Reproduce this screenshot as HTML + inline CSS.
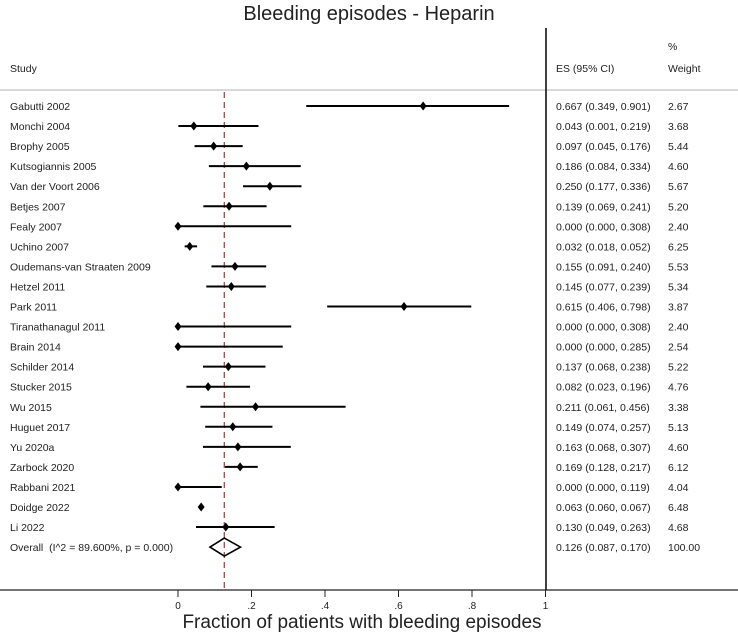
<!DOCTYPE html>
<html><head><meta charset="utf-8"><style>
body{margin:0;background:#fff;}
svg text{font-family:"Liberation Sans",sans-serif;fill:#222;white-space:pre;}
</style></head><body>
<svg id="chart" width="738" height="635" xmlns="http://www.w3.org/2000/svg">
<text x="369" y="20" font-size="20" text-anchor="middle">Bleeding episodes - Heparin</text>
<text x="10" y="72" font-size="10.5">Study</text>
<text x="556" y="72" font-size="10.5">ES (95% CI)</text>
<text x="668" y="50" font-size="10.5">%</text>
<text x="668" y="72" font-size="10.5">Weight</text>
<line x1="0" y1="90" x2="738" y2="90" stroke="#ccc" stroke-width="1.5"/>
<line x1="0" y1="590" x2="738" y2="590" stroke="#222" stroke-width="1.3"/>
<line x1="546" y1="28" x2="546" y2="590" stroke="#111" stroke-width="1.6"/>
<g id="marks"></g>
<text x="362" y="628" font-size="19" text-anchor="middle">Fraction of patients with bleeding episodes</text>
</svg>
<script>
const studies=["Gabutti 2002","Monchi 2004","Brophy 2005","Kutsogiannis 2005","Van der Voort 2006","Betjes 2007","Fealy 2007","Uchino 2007","Oudemans-van Straaten 2009","Hetzel 2011","Park 2011","Tiranathanagul 2011","Brain 2014","Schilder 2014","Stucker 2015","Wu 2015","Huguet 2017","Yu 2020a","Zarbock 2020","Rabbani 2021","Doidge 2022","Li 2022"];
const es=[0.667,0.043,0.097,0.186,0.250,0.139,0.000,0.032,0.155,0.145,0.615,0.000,0.000,0.137,0.082,0.211,0.149,0.163,0.169,0.000,0.063,0.130];
const lo=[0.349,0.001,0.045,0.084,0.177,0.069,0.000,0.018,0.091,0.077,0.406,0.000,0.000,0.068,0.023,0.061,0.074,0.068,0.128,0.000,0.060,0.049];
const hi=[0.901,0.219,0.176,0.334,0.336,0.241,0.308,0.052,0.240,0.239,0.798,0.308,0.285,0.238,0.196,0.456,0.257,0.307,0.217,0.119,0.067,0.263];
const weights=["2.67","3.68","5.44","4.60","5.67","5.20","2.40","6.25","5.53","5.34","3.87","2.40","2.54","5.22","4.76","3.38","5.13","4.60","6.12","4.04","6.48","4.68"];
const overall=[0.126,0.087,0.170];
const overallLabel="Overall  (I^2 = 89.600%, p = 0.000)";
const ticks=[0,0.2,0.4,0.6,0.8,1];
const tickLabels=["0",".2",".4",".6",".8","1"];
const NS="http://www.w3.org/2000/svg";
const g=document.getElementById('marks');
const xs=v=>178+v*367.5;
const ys=i=>106+i*20.05;
const f=v=>v.toFixed(3);
function mk(t,a){const e=document.createElementNS(NS,t);for(const k in a)e.setAttribute(k,a[k]);g.appendChild(e);return e;}
let e;
e=mk('line',{x1:xs(overall[0]),x2:xs(overall[0]),y1:92,y2:590,stroke:'#b5443c','stroke-width':1.3,'stroke-dasharray':'6,4'});


studies.forEach((s,i)=>{const y=ys(i);
 e=mk('text',{x:10,y:y+4,'font-size':10.5});e.textContent=s;
 
 
 e=mk('text',{x:556,y:y+4,'font-size':10.5});e.textContent=f(es[i])+" ("+f(lo[i])+", "+f(hi[i])+")";
 
 
 e=mk('text',{x:668,y:y+4,'font-size':10.5});e.textContent=weights[i];
 
 
 e=mk('line',{x1:xs(lo[i]),x2:xs(hi[i]),y1:y,y2:y,stroke:'#000','stroke-width':2});
 
 
 const cx=xs(es[i]);
 e=mk('polygon',{points:`${cx-3.5},${y} ${cx},${y-4.5} ${cx+3.5},${y} ${cx},${y+4.5}`,fill:'#000'});
 
 
});
const oy=ys(studies.length);
e=mk('text',{x:10,y:oy+4,'font-size':10.5});e.textContent=overallLabel;


e=mk('text',{x:556,y:oy+4,'font-size':10.5});e.textContent=f(overall[0])+" ("+f(overall[1])+", "+f(overall[2])+")";


e=mk('text',{x:668,y:oy+4,'font-size':10.5});e.textContent="100.00";


e=mk('polygon',{points:`${xs(overall[1])},${oy} ${xs(overall[0])},${oy-9} ${xs(overall[2])},${oy} ${xs(overall[0])},${oy+9}`,fill:'none',stroke:'#000','stroke-width':1.6});


ticks.forEach((t,i)=>{
 e=mk('line',{x1:xs(t),x2:xs(t),y1:590,y2:597,stroke:'#222','stroke-width':1});
 
 
 e=mk('text',{x:xs(t),y:609,'font-size':10,'text-anchor':'middle'});e.textContent=tickLabels[i];
 
 
});
</script>
</body></html>
